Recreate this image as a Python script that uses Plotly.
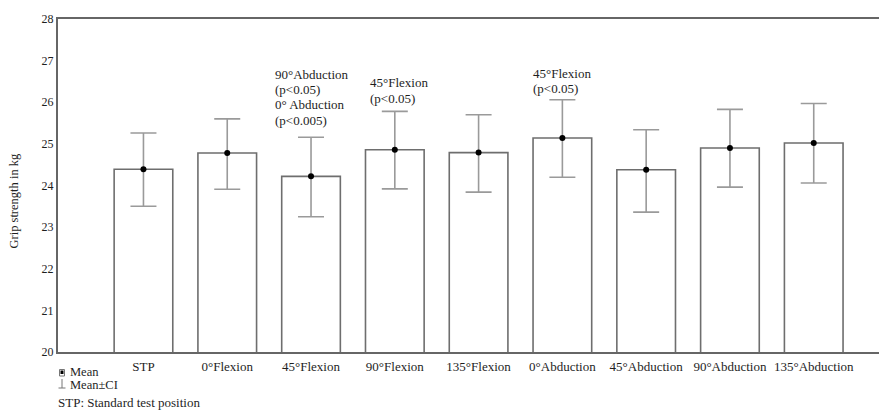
import plotly.graph_objects as go

# ---- data ----
categories = ["STP", "0°Flexion", "45°Flexion", "90°Flexion", "135°Flexion",
              "0°Abduction", "45°Abduction", "90°Abduction", "135°Abduction"]
mean_kg = [24.39, 24.78, 24.22, 24.86, 24.79, 25.14, 24.38, 24.90, 25.02]
ci_upper = [25.26, 25.60, 25.16, 25.78, 25.70, 26.06, 25.34, 25.83, 25.97]
ci_lower = [23.50, 23.91, 23.25, 23.92, 23.84, 24.20, 23.36, 23.96, 24.06]
y_ticks = [20, 21, 22, 23, 24, 25, 26, 27, 28]

sig_notes = {
    "45°Flexion": ["90°Abduction", "(p<0.05)", "0° Abduction", "(p<0.005)"],
    "90°Flexion": ["45°Flexion", "(p<0.05)"],
    "0°Abduction": ["45°Flexion", "(p<0.05)"],
}

# ---- layout constants (window pixels; page body has an 8px margin) ----
OFF = 8
W, H = 887, 411
L, R, T, B = 50, 0, 11, 67
PW, PH = W - L - R, H - T - B
FONT = "Liberation Serif, Times New Roman, serif"
TXT = "#1e1e1e"


def px_x(px):
    return (px - OFF - L) / PW


def px_y(py):
    return (H - B - (py - OFF)) / PH


idx = list(range(len(categories)))
err_plus = [u - m for u, m in zip(ci_upper, mean_kg)]
err_minus = [m - l for m, l in zip(mean_kg, ci_lower)]

fig = go.Figure()
fig.add_trace(go.Bar(
    x=idx, y=mean_kg, width=0.70,
    marker=dict(color="white", line=dict(color="#6e6e6e", width=1.6)),
    showlegend=False, hoverinfo="skip",
))
fig.add_trace(go.Scatter(
    x=idx, y=mean_kg, mode="markers",
    marker=dict(color="black", size=6),
    error_y=dict(type="data", symmetric=False, array=err_plus, arrayminus=err_minus,
                 color="#9a9a9a", thickness=1.6, width=13),
    showlegend=False,
))

annotations = []
# significance notes
note_offsets = {"45°Flexion": (-0.44, 66), "90°Flexion": (-0.31, 74.5), "0°Abduction": (-0.36, 64.5)}
for cat, lines in sig_notes.items():
    dx, top_px = note_offsets[cat]
    i = categories.index(cat)
    for k, line in enumerate(lines):
        annotations.append(dict(
            x=i + dx, xref="x", xanchor="left",
            y=px_y(top_px + k * 15.2), yref="paper", yanchor="top",
            text=line, showarrow=False, borderpad=0,
            font=dict(family=FONT, size=13, color=TXT),
        ))

# y-axis title
annotations.append(dict(
    x=px_x(13.5), xref="paper", xanchor="center",
    y=px_y(201), yref="paper", yanchor="middle",
    text="Grip strength in kg", textangle=-90, showarrow=False,
    font=dict(family=FONT, size=12.5, color=TXT),
))
# legend text
for txt, cx, cy, fs in [("Mean", 69, 372, 12.5), ("Mean±CI", 69, 385, 12.5),
                        ("STP: Standard test position", 57, 402.5, 13)]:
    annotations.append(dict(
        x=px_x(cx), xref="paper", xanchor="left",
        y=px_y(cy), yref="paper", yanchor="middle",
        text=txt, showarrow=False, borderpad=0,
        font=dict(family=FONT, size=fs, color=TXT),
    ))

shapes = [
    # Mean icon
    dict(type="rect", xref="paper", yref="paper", x0=px_x(59.5), x1=px_x(64.5),
         y0=px_y(376), y1=px_y(369.5), line=dict(color="#777", width=1), fillcolor="white"),
    dict(type="rect", xref="paper", yref="paper", x0=px_x(60.5), x1=px_x(63.5),
         y0=px_y(374), y1=px_y(370.5), line=dict(width=0), fillcolor="black"),
    # Mean±CI icon
    dict(type="line", xref="paper", yref="paper", x0=px_x(62), x1=px_x(62),
         y0=px_y(379), y1=px_y(388), line=dict(color="#777", width=1)),
    dict(type="line", xref="paper", yref="paper", x0=px_x(58.5), x1=px_x(65.5),
         y0=px_y(388), y1=px_y(388), line=dict(color="#777", width=1)),
]

fig.update_layout(
    width=W, height=H,
    margin=dict(l=L, r=R, t=T, b=B),
    paper_bgcolor="white", plot_bgcolor="white",
    font=dict(family=FONT, size=13, color=TXT),
    annotations=annotations, shapes=shapes,
    bargap=0.3,
)
fig.update_xaxes(
    range=[-1.02, 8.97], tickmode="array", tickvals=idx, ticktext=categories,
    showline=True, linecolor="#666", linewidth=2, mirror=True,
    showgrid=False, zeroline=False, ticks="", ticklabelstandoff=1,
    tickfont=dict(family=FONT, size=13, color=TXT), automargin=False,
)
fig.update_yaxes(
    range=[20, 28], tickvals=y_ticks,
    showline=True, linecolor="#666", linewidth=2,
    showgrid=False, zeroline=False, ticks="", ticklabelstandoff=0,
    tickfont=dict(family=FONT, size=12, color=TXT), automargin=False,
)

fig.write_html("out.html")
